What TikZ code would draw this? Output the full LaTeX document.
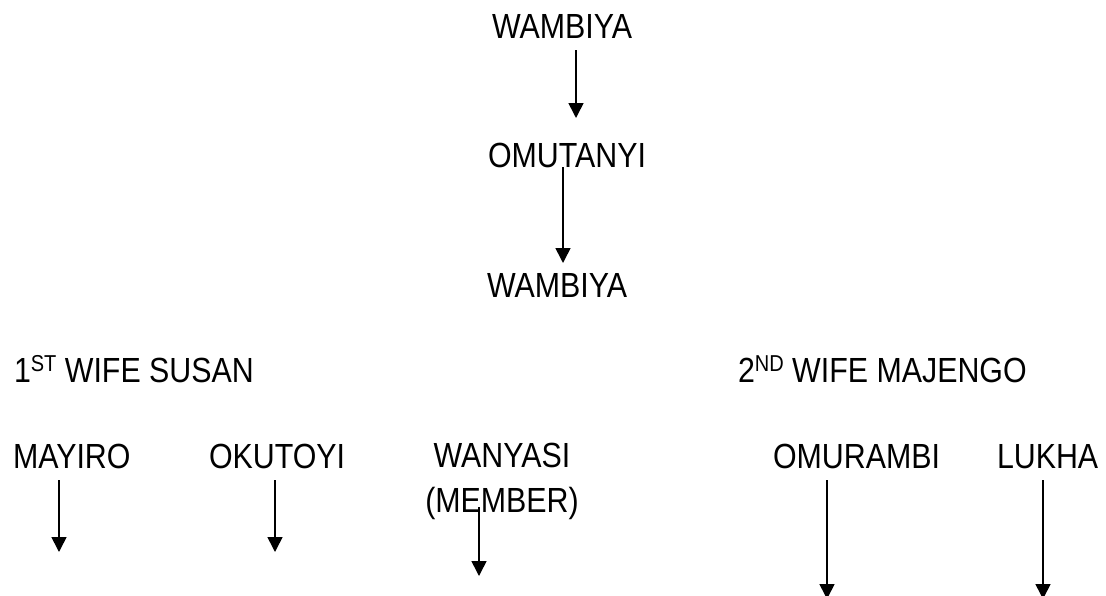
\documentclass[tikz,border=0pt]{standalone}
\usepackage{fontspec}
\setmainfont[FakeStretch=0.87]{Liberation Sans}
\usetikzlibrary{arrows.meta,positioning,calc}
\definecolor{Ink}{HTML}{000000}
\newcommand{\ordmark}[1]{\raisebox{11pt}{\fontsize{23}{23}\selectfont #1}}
\tikzset{
  namebox/.style={anchor=base west,inner sep=0pt,outer sep=0pt,font=\fontsize{34.9}{42}\selectfont,text=Ink},
  line/.style={-{Triangle[width=15pt,length=15pt]},draw=Ink,line width=1.6pt}
}
\begin{document}
\begin{tikzpicture}[x=1pt,y=-1pt]
  \useasboundingbox (0,0) rectangle (1106,595);
  % line of descent
  \node[namebox] (wambiya) at (492,38) {WAMBIYA};
  \node[namebox] (omutanyi) at (488,167) {OMUTANYI};
  \node[namebox] (wambiyaJr) at (487,297) {WAMBIYA};
  % wives
  \node[namebox] (susan) at (14,382) {1\ordmark{ST} WIFE SUSAN};
  \node[namebox] (majengo) at (738,382) {2\ordmark{ND} WIFE MAJENGO};
  % children
  \node[namebox] (mayiro) at (13,468) {MAYIRO};
  \node[namebox] (okutoyi) at (209,468) {OKUTOYI};
  \node[namebox,anchor=base] (wanyasi) at (502,467) {WANYASI};
  \node[namebox,anchor=base] (member) at (502,512) {(MEMBER)};
  \node[namebox] (omurambi) at (773,468) {OMURAMBI};
  \node[namebox] (lukha) at (997,468) {LUKHA};
  % free ends of the arrows
  \coordinate (tipA) at (576,118);
  \coordinate (tipB) at (563,263);
  \coordinate (tipMayiro) at (59,552);
  \coordinate (tipOkutoyi) at (275,552);
  \coordinate (tipWanyasi) at (479,576);
  \coordinate (tipOmurambi) at (827,599);
  \coordinate (tipLukha) at (1043,599);
  \draw[line] ($(wambiya.south -| tipA)+(0,12)$) -- (tipA);
  \draw[line] (omutanyi.south -| tipB) -- (tipB);
  \draw[line] ($(mayiro.base -| tipMayiro)+(0,12)$) -- (tipMayiro);
  \draw[line] ($(okutoyi.base -| tipOkutoyi)+(0,12)$) -- (tipOkutoyi);
  \draw[line] ($(member.base -| tipWanyasi)+(0,-5)$) -- (tipWanyasi);
  \draw[line] ($(omurambi.base -| tipOmurambi)+(0,12)$) -- (tipOmurambi);
  \draw[line] ($(lukha.base -| tipLukha)+(0,12)$) -- (tipLukha);
\end{tikzpicture}
\end{document}
